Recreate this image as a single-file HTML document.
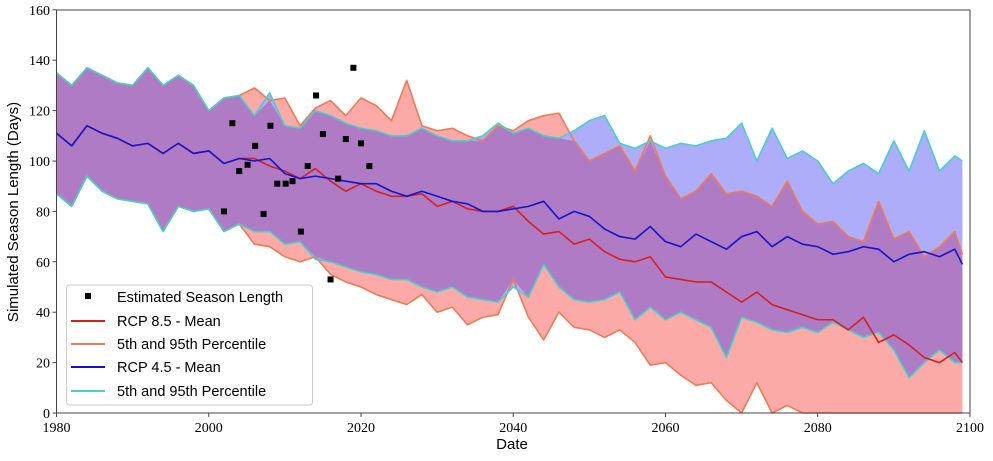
<!DOCTYPE html>
<html><head><meta charset="utf-8"><style>
body{margin:0;background:#fff;width:993px;height:461px;overflow:hidden}
svg{display:block}
.tk{font-family:"Liberation Serif",serif;font-size:14px;fill:#000}
.lg{font-family:"Liberation Sans",sans-serif;font-size:14.5px;fill:#000}
</style></head><body>
<svg id="chart" width="993" height="461">
<g id="plot"></g>
<rect x="56.5" y="10" width="913.5" height="403" fill="none" stroke="#444" stroke-width="1"/>
<g id="axes"></g>
<text x="512" y="449" text-anchor="middle" class="lg" style="font-size:15px">Date</text>
<text transform="translate(18,212) rotate(-90)" text-anchor="middle" class="lg" style="font-size:15px">Simulated Season Length (Days)</text>
<g id="legend">
<rect x="66.5" y="285" width="246" height="120" rx="3" fill="#fff" fill-opacity="0.85" stroke="#ccc"/>
<rect x="85" y="293" width="6" height="6" fill="#000"/>
<text x="117" y="302" class="lg">Estimated Season Length</text>
<line x1="71" y1="321" x2="105" y2="321" stroke="#d62020" stroke-width="2"/>
<text x="117" y="326" class="lg">RCP 8.5 - Mean</text>
<line x1="71" y1="344" x2="105" y2="344" stroke="#ef7a55" stroke-width="2"/>
<text x="117" y="349" class="lg">5th and 95th Percentile</text>
<line x1="71" y1="367" x2="105" y2="367" stroke="#1414c8" stroke-width="2"/>
<text x="117" y="372" class="lg">RCP 4.5 - Mean</text>
<line x1="71" y1="391" x2="105" y2="391" stroke="#45d0cc" stroke-width="2"/>
<text x="117" y="396" class="lg">5th and 95th Percentile</text>
</g>
</svg>
<script>
const years=[1980,1982,1984,1986,1988,1990,1992,1994,1996,1998,2000,2002,2004,2006,2008,2010,2012,2014,2016,2018,2020,2022,2024,2026,2028,2030,2032,2034,2036,2038,2040,2042,2044,2046,2048,2050,2052,2054,2056,2058,2060,2062,2064,2066,2068,2070,2072,2074,2076,2078,2080,2082,2084,2086,2088,2090,2092,2094,2096,2098,2099];
const up45=[135,130,137,134,131,130,137,130,134,130,120,125,126,118,127,114,113,120,118,115,113,112,110,110,113,110,108,108,110,115,111,113,110,109,112,116,118,107,105,108,105,107,106,108,109,115,100,113,101,104,100,91,96,99,95,108,96,112,96,102,100];
const lo45=[87,82,94,88,85,84,83,72,82,80,81,72,75,72,72,67,68,61,60,58,56,55,53,53,50,48,50,46,45,44,50,46,59,50,45,44,45,48,37,42,37,40,37,34,22,38,36,33,32,34,32,36,33,30,32,25,14,20,25,20,20];
const up85=[135,130,137,134,131,130,137,130,134,130,120,125,126,129,124,125,114,121,124,118,125,122,116,132,114,112,113,110,108,114,112,116,118,119,108,100,103,106,96,110,94,85,88,95,87,88,86,82,92,80,75,76,70,68,84,69,72,62,66,72,63];
const lo85=[87,82,94,88,85,84,83,72,82,80,81,72,75,67,66,62,60,62,55,52,50,47,45,43,47,40,42,35,38,39,53,38,29,40,34,33,30,33,28,19,20,15,11,12,5,0,12,0,3,0,0,0,0,0,0,0,0,0,0,0,0];
const mean45=[111,106,114,111,109,106,107,103,107,103,104,99,101,100,101,95,93,94,93,92,91,91,88,86,88,86,84,83,80,80,81,82,84,77,80,78,73,70,69,74,68,66,71,68,65,70,72,66,70,67,66,63,64,66,65,60,63,64,62,65,59];
const mean85=[111,106,114,111,109,106,107,103,107,103,104,99,101,101,98,96,93,97,92,88,91,88,86,86,87,82,84,81,80,80,82,76,71,72,67,69,64,61,60,62,54,53,52,52,48,44,48,43,41,39,37,37,33,38,28,31,27,22,20,24,20];
const obsYears=[2002,2003.1,2004,2005.1,2006.1,2007.2,2008.1,2009,2010.1,2011,2012.1,2013,2014.1,2015,2016,2017,2018,2019,2020,2021.1];
const obsValues=[80,115,96,98.5,106,79,114,91,91,92,72,98,126,110.7,53,93,108.7,137,107,98];
const xTicks=[1980,2000,2020,2040,2060,2080,2100];
const yTicks=[0,20,40,60,80,100,120,140,160];

const NS="http://www.w3.org/2000/svg";
const X=yr=>56.5+(yr-1980)*7.6125;
const Y=v=>413-v*2.52;
const plot=document.getElementById('plot'), axes=document.getElementById('axes');
function mk(tag,attrs,parent){const e=document.createElementNS(NS,tag);for(const k in attrs)e.setAttribute(k,attrs[k]);parent.appendChild(e);return e;}
function band(up,lo){let d='M'+years.map((y,i)=>X(y)+','+Y(up[i])).join('L');for(let i=years.length-1;i>=0;i--)d+='L'+X(years[i])+','+Y(lo[i]);return d+'Z';}
function line(v){return 'M'+years.map((y,i)=>X(y)+','+Y(v[i])).join('L');}

const b85=mk('path',{d:band(up85,lo85),fill:'#fbaaa7'},plot);


const b45=mk('path',{d:band(up45,lo45),fill:'#adadfa'},plot);


const ovUp=up45.map((v,i)=>Math.min(v,up85[i])), ovLo=lo45.map((v,i)=>Math.max(v,lo85[i]));
const ov=mk('path',{d:band(ovUp,ovLo),fill:'#b07bc5'},plot);


[[up85,'#ef7a55','rcp85-p95-line'],[lo85,'#ef7a55','rcp85-p5-line'],[up45,'#45d0cc','rcp45-p95-line'],[lo45,'#45d0cc','rcp45-p5-line'],[mean85,'#d62020','rcp85-mean-line'],[mean45,'#1414c8','rcp45-mean-line']].forEach(s=>{
 const p=mk('path',{d:line(s[0]),fill:'none',stroke:s[1],'stroke-width':1.6,'stroke-linejoin':'round'},plot);
 
 
});
obsYears.forEach((yr,i)=>{
 const r=mk('rect',{x:X(yr)-3,y:Y(obsValues[i])-3,width:6,height:6,fill:'#000'},plot);
 
 
});
xTicks.forEach(t=>{
 const l=mk('line',{x1:X(t),x2:X(t),y1:413,y2:417,stroke:'#444'},axes);
 
 
 const tx=mk('text',{x:X(t),y:432,'text-anchor':'middle',class:'tk'},axes);
 tx.textContent=t;
 
 
});
yTicks.forEach(t=>{
 const l=mk('line',{x1:52.5,x2:56.5,y1:Y(t),y2:Y(t),stroke:'#444'},axes);
 
 
 const tx=mk('text',{x:50,y:Y(t)+5,'text-anchor':'end',class:'tk'},axes);
 tx.textContent=t;
 
 
});
</script>
</body></html>
